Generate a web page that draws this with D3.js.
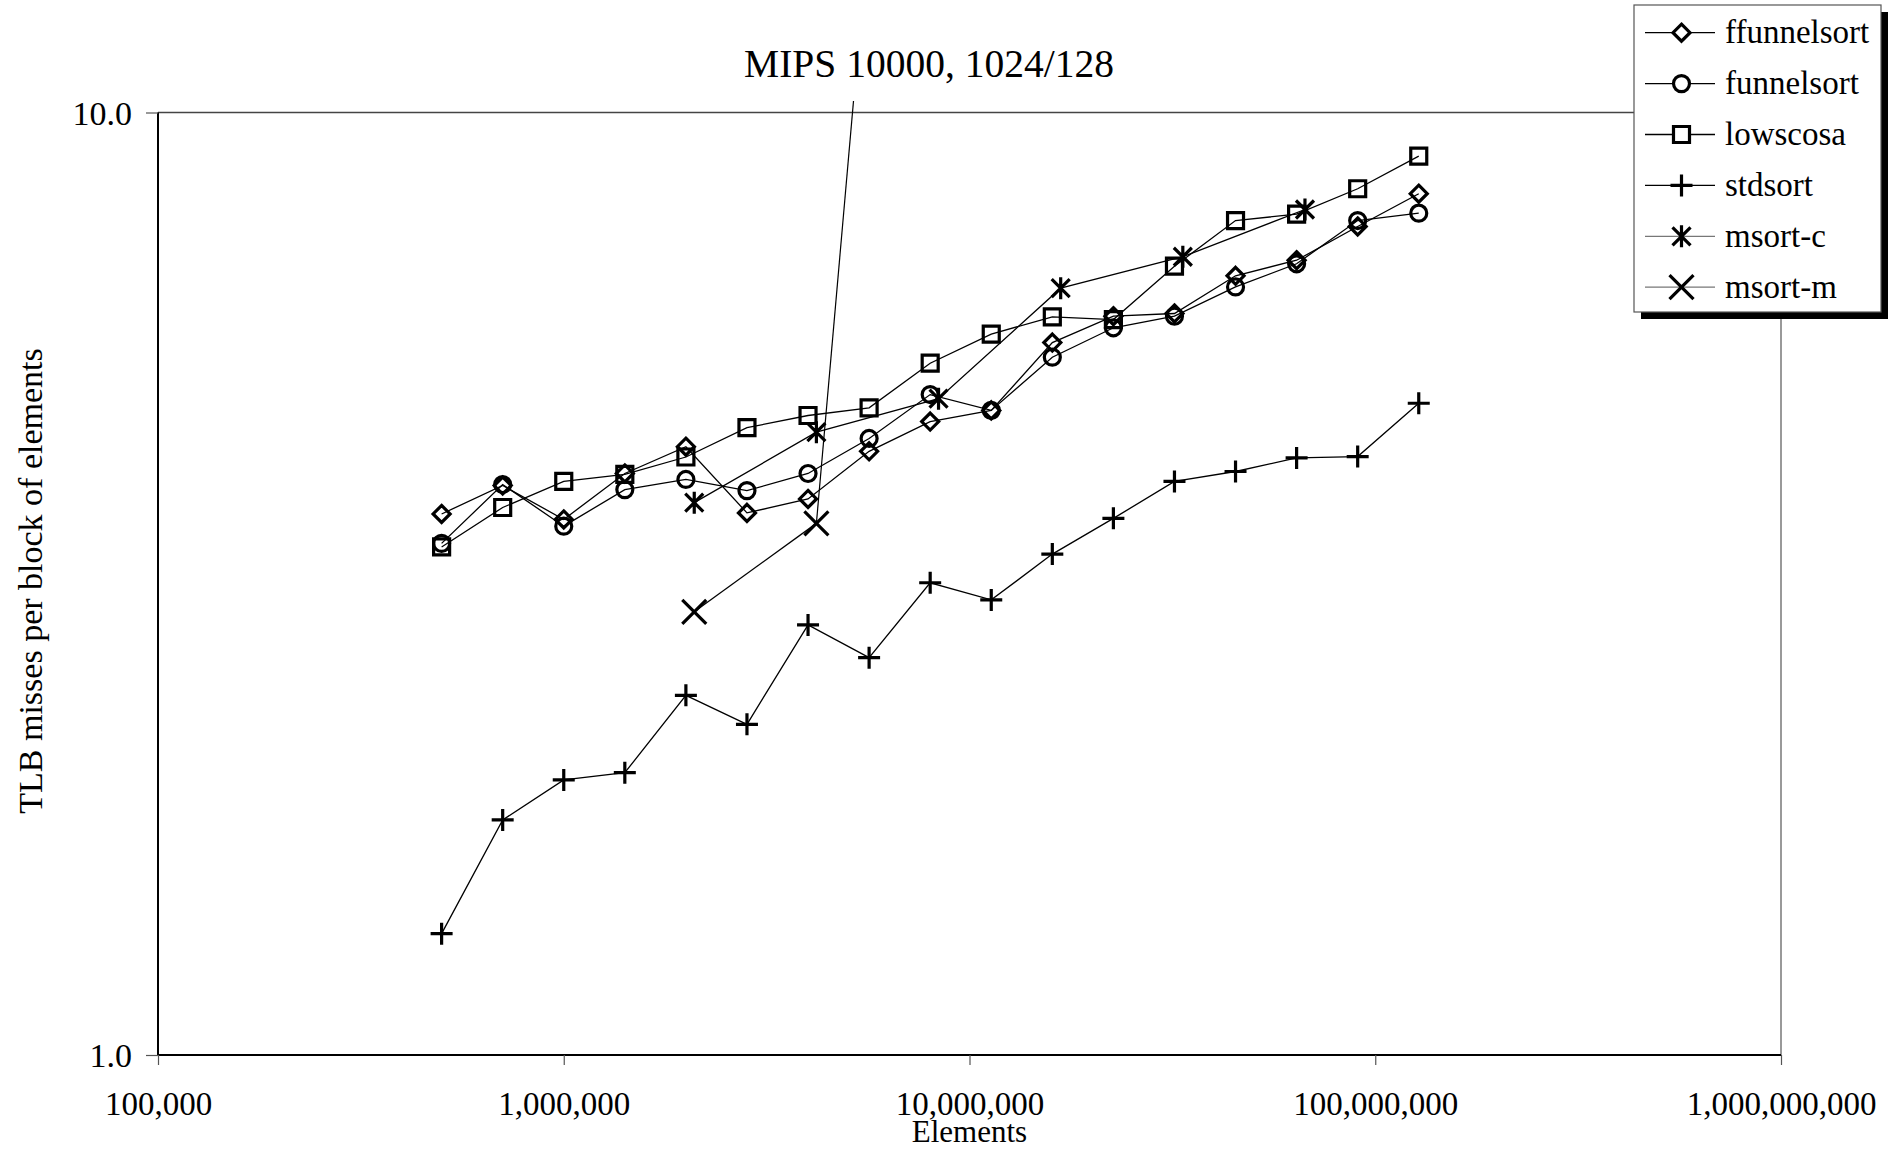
<!DOCTYPE html>
<html>
<head>
<meta charset="utf-8">
<script src="https://cdn.jsdelivr.net/npm/d3@7"></script>
<style>
    body { margin: 0; background: #ffffff; }
    text { font-family: "Liberation Serif", "Times New Roman", serif; fill: #000; }
</style>
</head>
<body>
<div id="chart"></div>
<script>
// x values (elements) for the main series
let elements = [500000, 707107, 1000000, 1414214, 2000000, 2828427, 4000000, 5656854, 8000000,
    11313708, 16000000, 22627417, 32000000, 45254834, 64000000, 90509668, 128000000];
// x values for the msort runs
let elementsMsortC = [2097152, 4194304, 8388608, 16777216, 33554432, 67108864];
let elementsMsortM = [2097152, 4194304];

// TLB misses per block of elements
let ffunnelsort = [3.75, 4.02, 3.70, 4.14, 4.42, 3.76, 3.89, 4.37, 4.70, 4.83, 5.70, 6.08, 6.12, 6.71, 6.97, 7.57, 8.20];
let funnelsort  = [3.49, 4.03, 3.64, 3.98, 4.08, 3.97, 4.14, 4.51, 5.02, 4.83, 5.50, 5.91, 6.08, 6.53, 6.91, 7.68, 7.82];
let lowscosa    = [3.46, 3.81, 4.06, 4.13, 4.31, 4.63, 4.77, 4.86, 5.42, 5.82, 6.07, 6.03, 6.87, 7.68, 7.80, 8.30, 8.99];
let stdsort     = [1.345, 1.776, 1.958, 1.993, 2.408, 2.243, 2.86, 2.64, 3.17, 3.04, 3.40, 3.71, 4.06, 4.16, 4.30, 4.315, 4.915];
let msortC      = [3.855, 4.58, 4.97, 6.51, 7.03, 7.89];
let msortM      = [2.953, 3.665];

let xTicks = [1e5, 1e6, 1e7, 1e8, 1e9];
let yTicks = [1, 10];
let seriesNames = ["ffunnelsort", "funnelsort", "lowscosa", "stdsort", "msort-c", "msort-m"];

let series = [
    {name: "ffunnelsort", x: elements, y: ffunnelsort, marker: "diamond"},
    {name: "funnelsort", x: elements, y: funnelsort, marker: "circle"},
    {name: "lowscosa", x: elements, y: lowscosa, marker: "square"},
    {name: "stdsort", x: elements, y: stdsort, marker: "plus"},
    {name: "msort-c", x: elementsMsortC, y: msortC, marker: "asterisk"},
    {name: "msort-m", x: elementsMsortM, y: msortM, marker: "cross"}
];

let width = 1899, height = 1151;
let plot = {left: 158, right: 1781, top: 112.5, bottom: 1055};

let svg = d3.select("#chart").append("svg")
    .attr("width", width)
    .attr("height", height);

let x = d3.scaleLog().domain([1e5, 1e9]).range([plot.left, plot.right]);
let y = d3.scaleLog().domain([1, 10]).range([plot.bottom, plot.top]);

// marker path builders
function markerPath(type) {
    switch (type) {
        case "diamond": return "M0,-8.5L8.5,0L0,8.5L-8.5,0Z";
        case "square": return "M-8,-8H8V8H-8Z";
        case "circle": return "M8,0A8,8 0 1,1 -8,0A8,8 0 1,1 8,0Z";
        case "plus": return "M-11,0H11M0,-11V11";
        case "asterisk": return "M0,-11V11M-9,-9L9,9M-9,9L9,-9";
        case "cross": return "M-12,-12L12,12M-12,12L12,-12";
    }
}

// frame: top and right thin grey, left and bottom black
svg.append("line").attr("x1", plot.left).attr("x2", plot.right).attr("y1", plot.top).attr("y2", plot.top)
    .attr("stroke", "#444").attr("stroke-width", 1.5);
svg.append("line").attr("x1", plot.right).attr("x2", plot.right).attr("y1", plot.top).attr("y2", plot.bottom)
    .attr("stroke", "#555").attr("stroke-width", 1.2);

// x axis
let xAxis = svg.append("g")
    .attr("transform", "translate(0," + plot.bottom + ")")
    .call(d3.axisBottom(x).tickValues(xTicks).tickSize(10).tickFormat(d3.format(",")));
xAxis.select(".domain").attr("stroke", "#000").attr("stroke-width", 2).attr("d", "M" + plot.left + ",0H" + plot.right);
xAxis.selectAll(".tick line").attr("stroke", "#555").attr("stroke-width", 1.2);
xAxis.selectAll(".tick text")
    .attr("y", 0).attr("dy", 0)
    .attr("transform", "translate(0,60)")
    .style("font-family", "Liberation Serif")
    .style("font-size", "33px");

// y axis
let yAxis = svg.append("g")
    .attr("transform", "translate(" + plot.left + ",0)")
    .call(d3.axisLeft(y).tickValues(yTicks).tickSize(12).tickFormat(d3.format(".1f")));
yAxis.select(".domain").attr("stroke", "#000").attr("stroke-width", 2).attr("d", "M0," + plot.top + "V" + plot.bottom);
yAxis.selectAll(".tick line").attr("stroke", "#555").attr("stroke-width", 1.2);
yAxis.selectAll(".tick text")
    .attr("x", -26).attr("dy", "0.34em")
    .style("font-family", "Liberation Serif")
    .style("font-size", "34px");

// axis titles
svg.append("text")
    .attr("x", (plot.left + plot.right) / 2)
    .attr("y", 1142)
    .attr("text-anchor", "middle")
    .style("font-size", "31px")
    .text("Elements");

svg.append("text")
    .attr("transform", "translate(42," + 581 + ") rotate(-90)")
    .attr("text-anchor", "middle")
    .style("font-size", "34px")
    .text("TLB misses per block of elements");

// chart title
svg.append("text")
    .attr("x", 929)
    .attr("y", 77)
    .attr("text-anchor", "middle")
    .style("font-size", "39.5px")
    .text("MIPS 10000, 1024/128");

// leader line from title to msort-m point
svg.append("line")
    .attr("x1", 853.5).attr("y1", 101)
    .attr("x2", x(elementsMsortM[1])).attr("y2", y(msortM[1]))
    .attr("stroke", "#000").attr("stroke-width", 1.2);

// series lines
let line = d3.line()
    .x(d => x(d[0]))
    .y(d => y(d[1]));

let seriesG = svg.append("g").attr("class", "series");
series.forEach(s => {
    let pts = s.x.map((v, i) => [v, s.y[i]]);
    seriesG.append("path")
        .datum(pts)
        .attr("d", line)
        .attr("fill", "none")
        .attr("stroke", "#000")
        .attr("stroke-width", 1.3);
});
series.forEach(s => {
    let pts = s.x.map((v, i) => [v, s.y[i]]);
    seriesG.selectAll(null)
        .data(pts)
        .enter()
        .append("path")
        .attr("transform", d => "translate(" + x(d[0]) + "," + y(d[1]) + ")")
        .attr("d", markerPath(s.marker))
        .attr("fill", "none")
        .attr("stroke", "#000")
        .attr("stroke-width", 3.2);
});

// legend
let legend = svg.append("g").attr("class", "legend");
let lg = {x: 1634, y: 5, w: 247, h: 307};
legend.append("rect")
    .attr("x", lg.x + 7).attr("y", lg.y + 7)
    .attr("width", lg.w).attr("height", lg.h)
    .attr("fill", "#000");
legend.append("rect")
    .attr("x", lg.x).attr("y", lg.y)
    .attr("width", lg.w).attr("height", lg.h)
    .attr("fill", "#fff")
    .attr("stroke", "#555")
    .attr("stroke-width", 1.2);

series.forEach((s, i) => {
    let cy = 32.7 + i * 50.9;
    legend.append("line")
        .attr("x1", 1645).attr("x2", 1715)
        .attr("y1", cy).attr("y2", cy)
        .attr("stroke", i >= 4 ? "#777" : "#000")
        .attr("stroke-width", 1.3);
    legend.append("path")
        .attr("transform", "translate(1681.5," + cy + ")")
        .attr("d", markerPath(s.marker))
        .attr("fill", "#fff")
        .attr("stroke", "#000")
        .attr("stroke-width", 3.2);
    legend.append("text")
        .attr("x", 1725)
        .attr("y", cy)
        .attr("dy", "0.32em")
        .style("font-size", "33px")
        .text(seriesNames[i]);
});
</script>
</body>
</html>
